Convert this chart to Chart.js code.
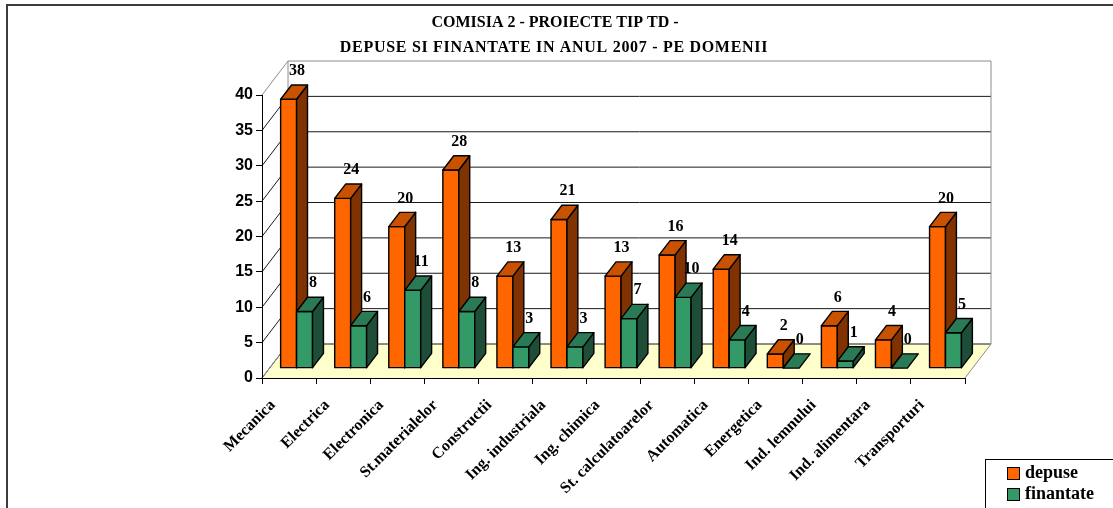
<!DOCTYPE html>
<html>
<head>
<meta charset="utf-8">
<title>Comisia 2 - proiecte TD 2007</title>
<script src="https://cdn.jsdelivr.net/npm/chart.js@4.4.1/dist/chart.umd.min.js"></script>
<style>
  html, body { margin: 0; padding: 0; background: #fff; }
</style>
</head>
<body>
<canvas id="domenii" width="1113" height="508"></canvas>
<script>
var domenii = ["Mecanica", "Electrica", "Electronica", "St.materialelor", "Constructii",
    "Ing. industriala", "Ing. chimica", "St. calculatoarelor", "Automatica", "Energetica",
    "Ind. lemnului", "Ind. alimentara", "Transporturi"];
var depuse = [38, 24, 20, 28, 13, 21, 13, 16, 14, 2, 6, 4, 20];
var finantate = [8, 6, 11, 8, 3, 3, 7, 10, 4, 0, 1, 0, 5];
var titlu = ["COMISIA 2 - PROIECTE TIP TD -", "DEPUSE SI FINANTATE IN ANUL 2007 - PE DOMENII"];

// front / top / side colours of the 3d columns
var fete = [
    ["#FF6600", "#C85200", "#803300"],
    ["#339966", "#2A7A55", "#1E4D38"]
];

var SERIF = "'Liberation Serif', 'Times New Roman', serif";
var SANS = "'Liberation Sans', Arial, sans-serif";

// depth of the walls, and where the columns sit inside it
var DEPTH = { x: 26, y: -34 };
var BAR_FRONT = 0.29, BAR_DEPTH = 0.42;

function poly(c, pts, fill, stroke) {
    c.beginPath();
    c.moveTo(pts[0][0], pts[0][1]);
    for (var i = 1; i < pts.length; i++) c.lineTo(pts[i][0], pts[i][1]);
    c.closePath();
    if (fill) { c.fillStyle = fill; c.fill(); }
    if (stroke) { c.strokeStyle = stroke; c.stroke(); }
}

function line(c, x0, y0, x1, y1, color) {
    c.beginPath();
    c.moveTo(x0, y0);
    c.lineTo(x1, y1);
    c.strokeStyle = color;
    c.stroke();
}

var walls = {
    id: "walls",
    beforeDraw: function (chart) {
        var c = chart.ctx, xs = chart.scales.x, ys = chart.scales.y;
        var dx = DEPTH.x, dy = DEPTH.y;
        var l = xs.left, r = xs.right;
        var b = ys.getPixelForValue(ys.min), t = ys.getPixelForValue(ys.max);
        c.save();
        c.fillStyle = "#fff";
        c.fillRect(0, 0, chart.width, chart.height);

        // outer frame
        c.lineWidth = 2;
        c.beginPath();
        c.moveTo(7, chart.height);
        c.lineTo(7, 5);
        c.lineTo(chart.width, 5);
        c.strokeStyle = "#3c3c3c";
        c.stroke();

        // title
        c.fillStyle = "#000";
        c.font = "bold 16px " + SERIF;
        c.textAlign = "center";
        c.textBaseline = "middle";
        c.fillText(titlu[0], 555, 23);
        c.letterSpacing = "0.7px";
        c.fillText(titlu[1], 554, 48);
        c.letterSpacing = "0px";

        c.lineWidth = 1;
        // floor
        poly(c, [[l, b], [r, b], [r + dx, b + dy], [l + dx, b + dy]], "#FFFFCC", null);
        // back wall + side wall
        poly(c, [[l + dx, t + dy], [r + dx, t + dy], [r + dx, b + dy], [l + dx, b + dy]], "#fff", null);
        poly(c, [[l, t], [l + dx, t + dy], [l + dx, b + dy], [l, b]], "#fff", null);

        ys.ticks.forEach(function (tk) {
            var y = ys.getPixelForValue(tk.value);
            var col = tk.value === ys.max ? "#8c8c8c" : "#1a1a1a";
            line(c, l, y, l + dx, y + dy, col);
            line(c, l + dx, y + dy, r + dx, y + dy, col);
        });
        line(c, l + dx, t + dy, l + dx, b + dy, "#8c8c8c");
        line(c, r + dx, t + dy, r + dx, b + dy, "#8c8c8c");
        line(c, r, b, r + dx, b + dy, "#8c8c8c");
        line(c, l, b, l + dx, b + dy, "#8c8c8c");
        c.restore();
    }
};

var bars3d = {
    id: "bars3d",
    beforeDatasetsDraw: function (chart) {
        var c = chart.ctx;
        var fx = DEPTH.x * BAR_FRONT, fy = DEPTH.y * BAR_FRONT;
        var bx = DEPTH.x * BAR_DEPTH, by = DEPTH.y * BAR_DEPTH;
        var n = chart.data.labels.length;
        c.save();
        c.lineWidth = 1.4;
        c.lineJoin = "round";
        for (var j = 0; j < n; j++) {
            chart.data.datasets.forEach(function (ds, i) {
                var el = chart.getDatasetMeta(i).data[j];
                var col = fete[i];
                var x0 = el.x - el.width / 2 + fx, x1 = el.x + el.width / 2 + fx;
                var yt = el.y + fy, yb = el.base + fy;
                if (yb - yt > 0.5) {
                    poly(c, [[x0, yt], [x1, yt], [x1, yb], [x0, yb]], col[0], "#000");
                    poly(c, [[x1, yt], [x1 + bx, yt + by], [x1 + bx, yb + by], [x1, yb]], col[2], "#000");
                }
                poly(c, [[x0, yt], [x1, yt], [x1 + bx, yt + by], [x0 + bx, yt + by]], col[1], "#000");
            });
        }

        // value labels above each column
        c.fillStyle = "#000";
        c.font = "bold 16px " + SERIF;
        c.textAlign = "center";
        c.textBaseline = "middle";
        chart.data.datasets.forEach(function (ds, i) {
            chart.getDatasetMeta(i).data.forEach(function (el, j) {
                c.fillText(String(ds.data[j]), el.x + fx + bx / 2 + 3, el.y + fy + by - 14);
            });
        });
        c.restore();
        return false;
    },
    afterDraw: function (chart) {
        // legend box in the lower right corner
        var c = chart.ctx;
        c.save();
        c.lineWidth = 1;
        c.strokeStyle = "#000";
        c.strokeRect(985.5, 459.5, 200, 100);
        c.font = "bold 18px " + SERIF;
        c.textBaseline = "middle";
        c.textAlign = "left";
        chart.data.datasets.forEach(function (ds, i) {
            var y = 467 + i * 21;
            c.fillStyle = fete[i][0];
            c.fillRect(1007.5, y + 0.5, 12, 12);
            c.strokeRect(1007.5, y + 0.5, 12, 12);
            c.fillStyle = "#000";
            c.fillText(ds.label, 1025, y + 6);
        });
        c.restore();
    }
};

new Chart(document.getElementById("domenii"), {
    type: "bar",
    data: {
        labels: domenii,
        datasets: [
            { label: "depuse", data: depuse, backgroundColor: fete[0][0] },
            { label: "finantate", data: finantate, backgroundColor: fete[1][0] }
        ]
    },
    options: {
        responsive: false,
        devicePixelRatio: 1,
        animation: false,
        categoryPercentage: 0.59,
        barPercentage: 1,
        layout: { padding: { top: 95, left: 222, right: 148, bottom: 0 } },
        plugins: {
            legend: { display: false },
            title: { display: false },
            tooltip: { enabled: false }
        },
        scales: {
            x: {
                grid: { offset: true, drawOnChartArea: false, tickLength: 6, color: "#000" },
                border: { color: "#000", width: 1 },
                ticks: {
                    minRotation: 45,
                    maxRotation: 45,
                    padding: 12,
                    labelOffset: -16,
                    color: "#000",
                    font: { family: SERIF, size: 16, weight: "bold" }
                },
                afterFit: function (s) { s.height = 130; }
            },
            y: {
                min: 0,
                max: 40,
                grid: { drawOnChartArea: false, tickLength: 6, color: "#000" },
                border: { color: "#000", width: 1 },
                ticks: {
                    stepSize: 5,
                    padding: 3,
                    color: "#000",
                    font: { family: SANS, size: 16, weight: "bold" }
                },
                afterFit: function (s) { s.width = 40; }
            }
        }
    },
    plugins: [walls, bars3d]
});
</script>
</body>
</html>
